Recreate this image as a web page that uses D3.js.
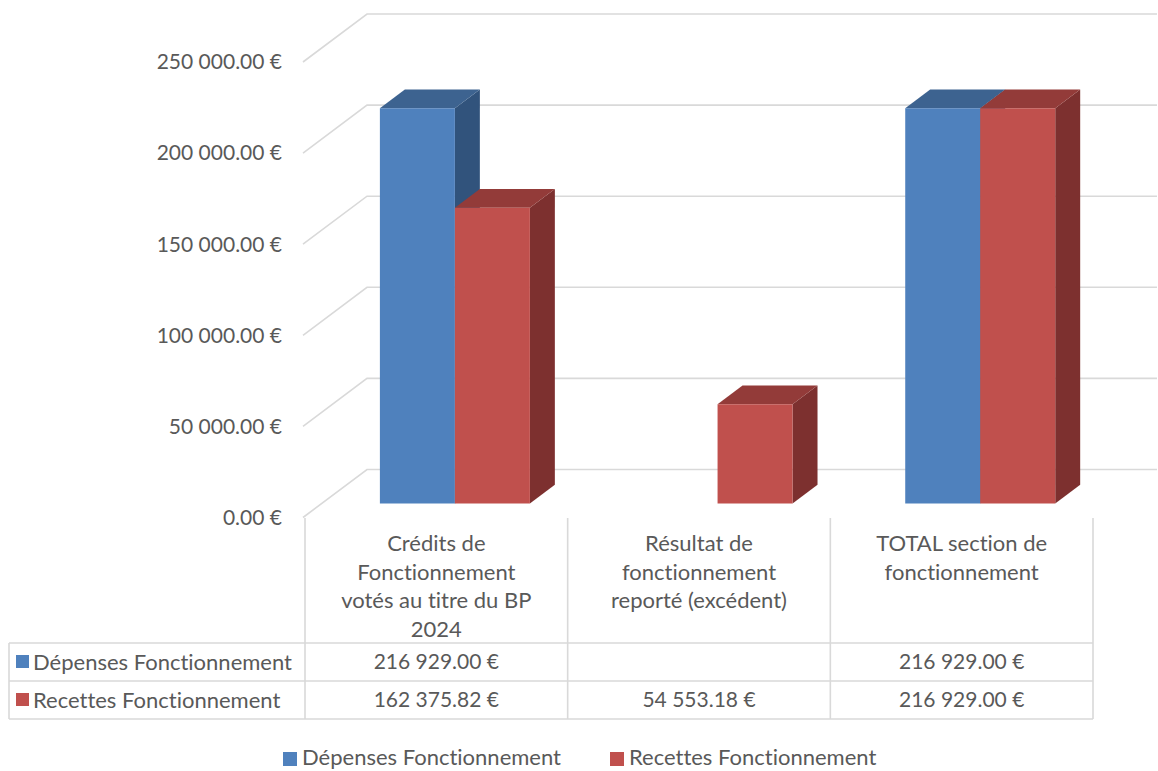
<!DOCTYPE html>
<html>
<head>
<meta charset="utf-8">
<script src="https://cdn.jsdelivr.net/npm/d3@7"></script>
<style>
  body { margin: 0; background: #fff; }
  text { font-family: Lato, "Noto Sans", sans-serif; fill: #595959; font-variant-ligatures: none; }
</style>
</head>
<body>
<svg id="chart"></svg>
<script>
const categories = [
  ['Crédits de', 'Fonctionnement', 'votés au titre du BP', '2024'],
  ['Résultat de', 'fonctionnement', 'reporté (excédent)'],
  ['TOTAL section de', 'fonctionnement']
]
const seriesNames = ['Dépenses Fonctionnement', 'Recettes Fonctionnement']
const depenses = [216929.00, null, 216929.00]
const recettes = [162375.82, 54553.18, 216929.00]
const yTicks = [0, 50000, 100000, 150000, 200000, 250000]

const width = 1158, height = 771
const colors = [
  { front: '#4f81bd', top: '#3d6390', side: '#31537c' },
  { front: '#c0504d', top: '#933b39', side: '#7d302f' }
]

const svg = d3.select('#chart').attr('width', width).attr('height', height)

// plan avant
const x0 = 305, x1 = 1093
const DX = 64, DY = -48
const zFront = 0.29, zBack = 0.68

const y = d3.scaleLinear().domain([0, 250000]).range([517.5, 62])
const x = d3.scaleBand().domain(d3.range(categories.length)).range([x0, x1])
const fmt = v => d3.format(',.2f')(v).replace(/,/g, '\u00a0') + '\u00a0€'

const proj = (px, v, z) => [px + z * DX, y(v) + z * DY]

// grille
const grid = svg.append('g')
  .attr('stroke', '#d9d9d9')
  .attr('stroke-width', 1.6)
  .attr('fill', 'none')

grid.selectAll('.wall')
  .data(yTicks)
  .enter()
  .append('path')
  .attr('d', d => {
    const a = proj(x0 - 2, d, 0), b = proj(x0 - 2, d, 1), c = proj(x1, d, 1)
    return `M${a}L${b}L${c}`
  })

// axe y
svg.append('g').selectAll('text')
  .data(yTicks)
  .enter()
  .append('text')
  .attr('x', 282)
  .attr('y', d => y(d))
  .attr('dy', '0.35em')
  .attr('text-anchor', 'end')
  .style('font-size', '21px')
  .text(d => fmt(d))

// barres 3D
const data = [depenses, recettes]
const bw = 75
const bars = svg.append('g')

categories.forEach((c, i) => {
  const cx = x(i) + x.bandwidth() / 2
  const inner = d3.scaleBand().domain([0, 1]).range([cx - bw, cx + bw])
  data.forEach((serie, s) => {
    const v = serie[i]
    if (v == null) return
    const l = inner(s), r = inner(s) + inner.bandwidth()
    const col = colors[s]
    const fb = proj(l, 0, zFront), ft = proj(l, v, zFront)
    const rb = proj(r, 0, zFront), rt = proj(r, v, zFront)
    const rbb = proj(r, 0, zBack), rtb = proj(r, v, zBack), ltb = proj(l, v, zBack)
    const g = bars.append('g')
    g.append('path')
      .attr('d', `M${rb}L${rt}L${rtb}L${rbb}Z`)
      .attr('fill', col.side)
    g.append('path')
      .attr('d', `M${ft}L${rt}L${rtb}L${ltb}Z`)
      .attr('fill', col.top)
    g.append('path')
      .attr('d', `M${fb}L${ft}L${rt}L${rb}Z`)
      .attr('fill', col.front)
  })
})

// tableau de données
const tTop = 518, hRow = 643, r1 = 681, tBottom = 719, tLeft = 9
const table = svg.append('g')
  .attr('stroke', '#d9d9d9')
  .attr('stroke-width', 1.6)
  .attr('fill', 'none')

const cols = d3.range(categories.length + 1).map(i => i < categories.length ? x(i) : x1)
table.selectAll('.v')
  .data(cols)
  .enter()
  .append('line')
  .attr('x1', d => d).attr('x2', d => d)
  .attr('y1', tTop).attr('y2', tBottom)

table.append('line').attr('x1', tLeft).attr('x2', tLeft).attr('y1', hRow).attr('y2', tBottom)
table.selectAll('.h')
  .data([hRow, r1, tBottom])
  .enter()
  .append('line')
  .attr('x1', tLeft).attr('x2', x1)
  .attr('y1', d => d).attr('y2', d => d)

// en-têtes de catégories
categories.forEach((lines, i) => {
  const t = svg.append('text')
    .attr('x', x(i) + x.bandwidth() / 2)
    .attr('y', 551)
    .attr('text-anchor', 'middle')
    .style('font-size', '22px')
  lines.forEach((ln, k) => {
    t.append('tspan')
      .attr('x', x(i) + x.bandwidth() / 2)
      .attr('dy', k === 0 ? 0 : 28.5)
      .text(ln)
  })
})

// lignes du tableau
const rowY = [662, 700]
data.forEach((serie, s) => {
  svg.append('rect')
    .attr('x', 16).attr('y', rowY[s] - 7)
    .attr('width', 13).attr('height', 13)
    .attr('fill', colors[s].front)
  svg.append('text')
    .attr('x', 33).attr('y', rowY[s])
    .attr('dy', '0.35em')
    .style('font-size', '22px')
    .text(seriesNames[s])
  serie.forEach((v, i) => {
    if (v == null) return
    svg.append('text')
      .attr('x', x(i) + x.bandwidth() / 2)
      .attr('y', rowY[s])
      .attr('dy', '0.35em')
      .attr('text-anchor', 'middle')
      .style('font-size', '21px')
      .text(fmt(v))
  })
})

// légende
const legendX = [283, 610]
seriesNames.forEach((n, s) => {
  svg.append('rect')
    .attr('x', legendX[s]).attr('y', 752)
    .attr('width', 14).attr('height', 14)
    .attr('fill', colors[s].front)
  svg.append('text')
    .attr('x', legendX[s] + 19).attr('y', 757)
    .attr('dy', '0.35em')
    .style('font-size', '22px')
    .text(n)
})
</script>
</body>
</html>
